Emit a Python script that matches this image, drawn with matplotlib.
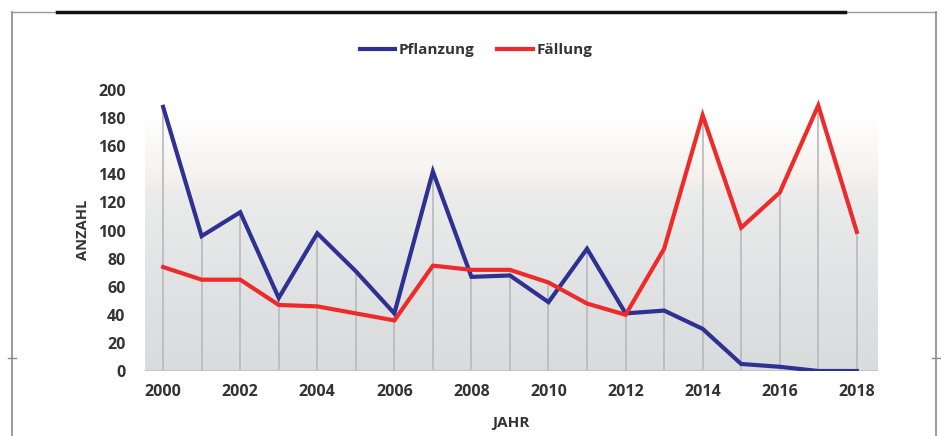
import matplotlib
matplotlib.use("Agg")
import matplotlib.pyplot as plt
import numpy as np
from matplotlib.colors import LinearSegmentedColormap
from matplotlib.lines import Line2D

years = list(range(2000, 2019))
pflanzung = [188, 96, 113, 52, 98, 71, 41, 142, 67, 68, 49, 87, 41, 43, 30, 5, 3, 0, 0]
faellung = [74, 65, 65, 47, 46, 41, 36, 75, 72, 72, 63, 48, 40, 87, 182, 102, 127, 189, 99]
yticks = list(range(0, 201, 20))
xticks = list(range(2000, 2019, 2))

W, H = 941, 436
fig = plt.figure(figsize=(W / 100, H / 100), dpi=100)
fig.patch.set_facecolor("white")

FONT = ["Open Sans", "DejaVu Sans"]
TXT = "#333333"

ax = fig.add_axes([145 / W, (H - 371) / H, 733 / W, 281 / H])
ax.set_xlim(1999.53, 2018.55)
ax.set_ylim(0, 200)

# background gradient of plot area
grad_top = 178
cmap = LinearSegmentedColormap.from_list(
    "bg",
    [(0.0, "#d9dcdd"), (0.25, "#dee0e1"), (0.7, "#ebebeb"), (0.78, "#f6f2ee"),
     (0.86, "#f8f6f4"), (1.0, "#fefefe")])
g = np.linspace(0, 1, 256).reshape(-1, 1)
ax.imshow(g, cmap=cmap, origin="lower", aspect="auto",
          extent=(1999.53, 2018.55, 0, grad_top), zorder=0)

# drop lines
for x, a, b in zip(years, pflanzung, faellung):
    ax.plot([x, x], [0, max(a, b)], color="#b7b9bb", lw=1.2, zorder=1)

ax.axhline(0, color="#c4c6c8", lw=1.5, zorder=1)

blue = "#2e3192"
red = "#ee2b2b"
ax.plot(years, pflanzung, color=blue, lw=3, solid_joinstyle="miter", zorder=3)
ax.plot(years, faellung, color=red, lw=3, solid_joinstyle="miter", zorder=3)

for s in ax.spines.values():
    s.set_visible(False)
ax.set_yticks(yticks)
ax.set_xticks(xticks)
ax.tick_params(length=0)
ax.set_yticklabels([str(v) for v in yticks], family=FONT, fontsize=11.5,
                   fontweight="bold", color=TXT)
ax.set_xticklabels([str(v) for v in xticks], family=FONT, fontsize=11.5,
                   fontweight="bold", color=TXT)
ax.tick_params(axis="y", pad=14)
ax.tick_params(axis="x", pad=9)

fig.text(83 / W, 1 - 230 / H, "ANZAHL", rotation=90, ha="center", va="center",
         family=FONT, fontsize=10.5, fontweight="bold", color=TXT)
fig.text(511 / W, 1 - 423 / H, "JAHR", ha="center", va="center",
         family=FONT, fontsize=11, fontweight="bold", color=TXT)

handles = [Line2D([], [], color=blue, lw=3), Line2D([], [], color=red, lw=3)]
fig.legend(handles, ["Pflanzung", "Fällung"], loc="center",
           bbox_to_anchor=(476 / W, 1 - 50 / H), ncol=2, frameon=False,
           handlelength=2.3, handletextpad=0.25, columnspacing=1.5,
           prop={"family": FONT, "size": 11, "weight": "bold"},
           labelcolor=TXT)

# frame lines
def fline(x0, y0, x1, y1, **kw):
    fig.add_artist(Line2D([x0 / W, x1 / W], [1 - y0 / H, 1 - y1 / H],
                          transform=fig.transFigure, **kw))

fline(12, 12, 936, 12, color="#9a9a9a", lw=1)
fline(12, 12, 12, 436, color="#8a8a8a", lw=1.2)
fline(936, 12, 936, 436, color="#8a8a8a", lw=1.2)
fline(57, 12, 845, 12, color="#111111", lw=2.5)
fline(8, 358, 16, 358, color="#8a8a8a", lw=1)
fline(932, 358, 940, 358, color="#8a8a8a", lw=1)

fig.savefig("out.png", dpi=100)
